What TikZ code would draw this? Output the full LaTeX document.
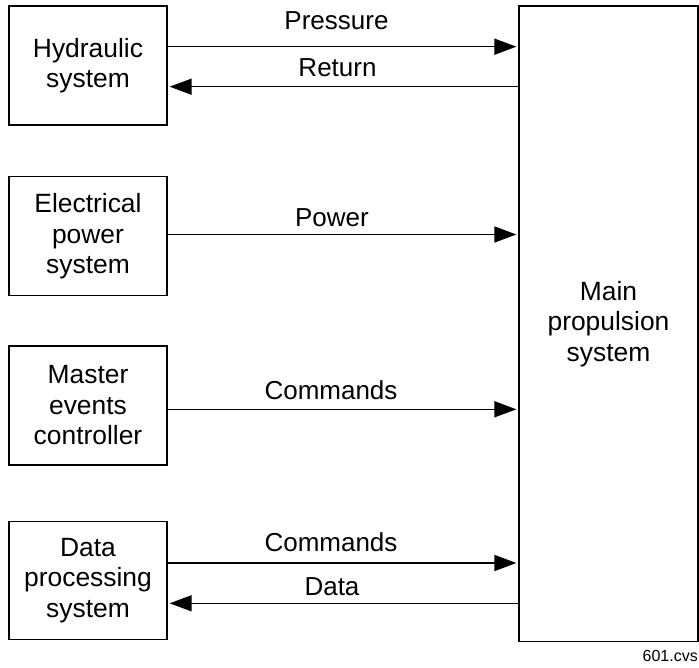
\documentclass[tikz,border=0pt]{standalone}
\usepackage{fontspec}
\setmainfont{Liberation Sans}
\usetikzlibrary{arrows.meta}
\begin{document}
\begin{tikzpicture}[x=1pt,y=-1pt,
  box/.style={draw,line width=1.3pt,inner sep=0pt,align=center,font=\fontsize{26.4}{30.5}\selectfont},
  arr/.style={line width=1.6pt,-{Triangle[length=22pt,width=16pt]},shorten >=2pt},
  lbl/.style={font=\fontsize{26}{30}\selectfont,anchor=base,inner sep=0pt}]
\useasboundingbox (0,0) rectangle (699,668);
\node[box,minimum width=158pt,minimum height=119pt] (hyd) at (88,65.5) {Hydraulic\\system};
\node[box,minimum width=158pt,minimum height=119pt] (elec) at (88,236.2) {Electrical\\power\\system};
\node[box,minimum width=158pt,minimum height=119pt] (mec) at (88,405.5) {Master\\events\\controller};
\node[box,minimum width=158pt,minimum height=118pt] (dps) at (88,580.2) {Data\\processing\\system};
\node[box,minimum width=179pt,minimum height=635.7pt] (mps) at (608.5,323.9) {Main\\propulsion\\system};
% connectors
\draw[arr] (hyd.east |- 0,46.7) -- (mps.west |- 0,46.7);
\draw[arr] (mps.west |- 0,86.7) -- (hyd.east |- 0,86.7);
\draw[arr] (elec.east |- 0,234.5) -- (mps.west |- 0,234.5);
\draw[arr] (mec.east |- 0,409.3) -- (mps.west |- 0,409.3);
\draw[arr] (dps.east |- 0,563) -- (mps.west |- 0,563);
\draw[arr] (mps.west |- 0,603.3) -- (dps.east |- 0,603.3);
% labels
\node[lbl] (lpress) at (336.5,29.3) {Pressure};
\node[lbl] (lret) at (337.5,76.7) {Return};
\node[lbl] (lpow) at (332,226.7) {Power};
\node[lbl] (lcmd1) at (331,399.3) {Commands};
\node[lbl] (lcmd2) at (331,551.7) {Commands};
\node[lbl] (ldata) at (332,595) {Data};
\node[font=\fontsize{16}{18}\selectfont,anchor=base east,inner sep=0pt] (fname) at (698,661.7) {601.cvs};
\end{tikzpicture}
\end{document}
